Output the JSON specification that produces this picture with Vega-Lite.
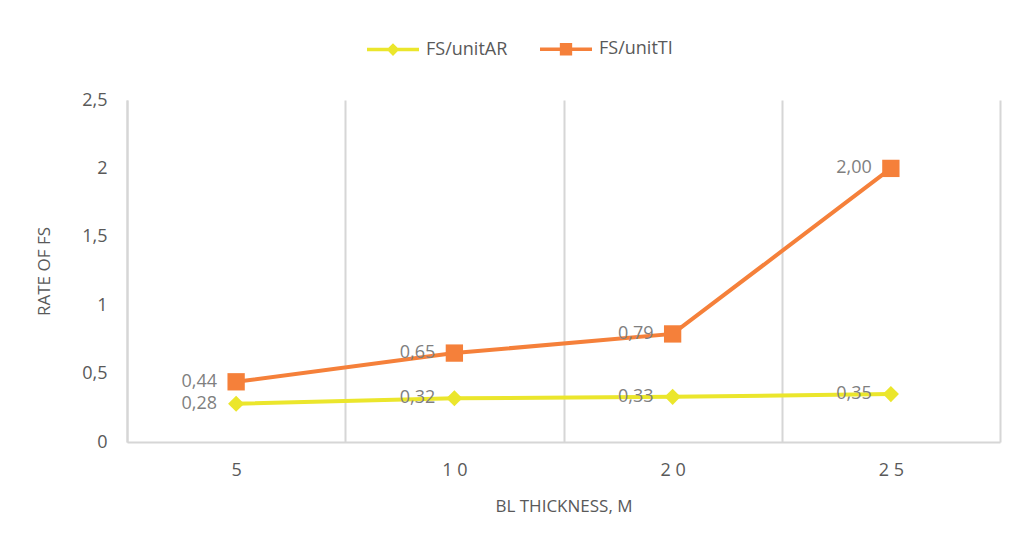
{
  "$schema": "https://vega.github.io/schema/vega-lite/v6.json",
  "width": 873,
  "height": 342,
  "autosize": {"type": "none"},
  "padding": {"left": 127, "top": 100, "right": 25, "bottom": 103},
  "background": "white",
  "data": {
    "values": [
      {"thickness": "5", "series": "FS/unitAR", "rate": 0.28},
      {"thickness": "10", "series": "FS/unitAR", "rate": 0.32},
      {"thickness": "20", "series": "FS/unitAR", "rate": 0.33},
      {"thickness": "25", "series": "FS/unitAR", "rate": 0.35},
      {"thickness": "5", "series": "FS/unitTI", "rate": 0.44},
      {"thickness": "10", "series": "FS/unitTI", "rate": 0.65},
      {"thickness": "20", "series": "FS/unitTI", "rate": 0.79},
      {"thickness": "25", "series": "FS/unitTI", "rate": 2.0}
    ]
  },
  "transform": [
    {"calculate": "replace(format(datum.rate, '.2f'), '.', ',')", "as": "rateLabel"}
  ],
  "encoding": {
    "x": {
      "field": "thickness",
      "type": "ordinal",
      "sort": ["5", "10", "20", "25"],
      "scale": {"paddingInner": 0, "paddingOuter": 0},
      "axis": {
        "title": "BL THICKNESS, M",
        "labelAngle": 0,
        "labelExpr": "join(split(datum.label, ''), ' ')",
        "tickBand": "extent",
        "ticks": false,
        "grid": true,
        "gridColor": "#d6d6d6",
        "gridWidth": 2,
        "domainColor": "#d6d6d6",
        "domainWidth": 2,
        "labelPadding": 19,
        "titlePadding": 19
      }
    },
    "y": {
      "field": "rate",
      "type": "quantitative",
      "scale": {"domain": [0, 2.5], "nice": false},
      "axis": {
        "title": "RATE OF FS",
        "values": [0, 0.5, 1, 1.5, 2, 2.5],
        "labelExpr": "replace(format(datum.value, '~g'), '.', ',')",
        "grid": false,
        "ticks": false,
        "domainColor": "#d6d6d6",
        "domainWidth": 2,
        "labelPadding": 20,
        "titlePadding": 28
      }
    },
    "color": {
      "field": "series",
      "type": "nominal",
      "scale": {"domain": ["FS/unitAR", "FS/unitTI"], "range": ["#ebe62c", "#f5803a"]},
      "legend": {
        "title": null,
        "orient": "none",
        "direction": "horizontal",
        "legendX": 238,
        "legendY": -79,
        "padding": 0,
        "symbolSize": 2704,
        "symbolStrokeWidth": 3.5,
        "labelOffset": 5,
        "columnPadding": 25,
        "encode": {
          "symbols": {
            "update": {
              "shape": {"signal": "datum.value === 'FS/unitAR' ? 'M-1,0H1M0,-0.15L0.15,0L0,0.15L-0.15,0Z' : 'M-1,0H1M-0.17,-0.17H0.17V0.17H-0.17Z'"},
              "size": {"value": 2704},
              "fill": {"scale": "color", "field": "value"},
              "stroke": {"scale": "color", "field": "value"},
              "strokeWidth": {"value": 3.5},
              "opacity": {"value": 1}
            }
          }
        }
      }
    }
  },
  "layer": [
    {
      "mark": {"type": "line", "strokeWidth": 4}
    },
    {
      "transform": [{"filter": "datum.series === 'FS/unitAR'"}],
      "mark": {"type": "point", "shape": "diamond", "size": 260, "filled": true, "opacity": 1}
    },
    {
      "transform": [{"filter": "datum.series === 'FS/unitTI'"}],
      "mark": {"type": "point", "shape": "square", "size": 300, "filled": true, "opacity": 1}
    },
    {
      "mark": {"type": "text", "align": "right", "baseline": "middle", "dx": -19, "fontSize": 18, "color": "#7f7f7f"},
      "encoding": {
        "text": {"field": "rateLabel", "type": "nominal"},
        "color": {"value": "#7f7f7f"}
      }
    }
  ],
  "config": {
    "font": "Open Sans",
    "view": {"stroke": null},
    "axis": {
      "labelFont": "Open Sans",
      "labelFontSize": 18,
      "labelColor": "#595959",
      "titleFont": "Open Sans",
      "titleFontSize": 17,
      "titleFontWeight": "normal",
      "titleColor": "#595959"
    },
    "legend": {
      "labelFont": "Open Sans",
      "labelFontSize": 18,
      "labelColor": "#595959"
    }
  }
}
